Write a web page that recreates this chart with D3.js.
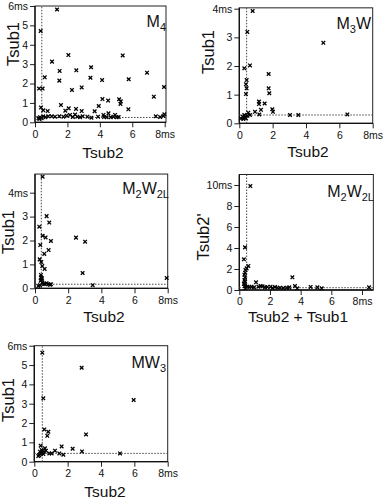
<!DOCTYPE html>
<html>
<head>
<meta charset="utf-8">
<script src="https://cdn.jsdelivr.net/npm/d3@7"></script>
<style>
  body { margin: 0; background: #fff; }
  svg { display: block; }
  text { font-family: "Liberation Sans", Arial, sans-serif; fill: #111; }
</style>
</head>
<body>
<div id="chart"></div>
<script>
// data, [Tsub2, Tsub1] pairs in ms
const m4Points = [
  [1.36, 5.82], [0.35, 4.71], [1.05, 3.13], [2.06, 3.47], [1.52, 2.65], [1.50, 2.15],
  [0.60, 2.32], [0.25, 1.74], [0.47, 1.74], [2.55, 2.68], [3.46, 2.84], [3.42, 2.30],
  [4.14, 2.18], [2.28, 1.67], [2.88, 1.80], [5.41, 3.45], [5.78, 2.22], [6.91, 2.56],
  [7.33, 1.32], [7.96, 1.82], [4.16, 1.20], [3.93, 0.84], [4.51, 1.12], [5.19, 1.19],
  [5.29, 1.08], [5.27, 0.95], [5.76, 0.67], [3.68, 0.57], [1.60, 0.89], [2.08, 0.72],
  [1.87, 0.60], [2.53, 0.69], [2.88, 0.58], [0.37, 0.76], [0.51, 0.62], [0.78, 0.58],
  [4.53, 0.46], [0.21, 0.22], [0.31, 0.26], [0.51, 0.31], [0.82, 0.31], [1.03, 0.31],
  [1.23, 0.29], [1.50, 0.31], [1.75, 0.29], [1.95, 0.34], [2.33, 0.27], [2.61, 0.29],
  [2.78, 0.26], [2.94, 0.31], [3.23, 0.29], [3.48, 0.24], [3.89, 0.29], [4.26, 0.27],
  [4.42, 0.26], [4.67, 0.26], [4.84, 0.29], [5.04, 0.26], [5.16, 0.27], [7.45, 0.31],
  [7.72, 0.27], [7.92, 0.33], [7.98, 0.41], [0.27, 0.17], [0.41, 0.21], [0.64, 0.26],
  [2.16, 0.38], [2.47, 0.40], [4.22, 0.38], [4.94, 0.38]
];
const m3wPoints = [
  [0.80, 3.92], [0.48, 3.19], [0.64, 2.02], [0.30, 1.92], [0.44, 1.51], [0.40, 1.36],
  [0.44, 1.22], [0.40, 1.02], [1.76, 1.72], [1.76, 1.22], [1.80, 1.05], [5.04, 2.81],
  [1.18, 0.67], [1.18, 0.76], [1.52, 0.69], [1.98, 0.49], [2.02, 0.40], [1.30, 0.47],
  [0.94, 0.40], [1.20, 0.31], [0.54, 0.37], [0.30, 0.29], [0.64, 0.29], [3.04, 0.29],
  [3.54, 0.29], [6.48, 0.31], [0.20, 0.23], [0.34, 0.21], [0.10, 0.17], [0.24, 0.15],
  [0.40, 0.17], [0.48, 0.26]
];
const m2w2lPoints = [
  [0.46, 4.67], [0.26, 2.58], [0.70, 3.02], [0.86, 2.75], [0.46, 2.20], [0.64, 2.13],
  [0.96, 1.98], [0.32, 1.81], [0.82, 1.60], [0.56, 1.44], [2.47, 2.12], [3.02, 1.95],
  [0.28, 1.21], [0.38, 1.10], [0.44, 0.93], [0.58, 0.81], [2.87, 0.64], [7.94, 0.43],
  [3.48, 0.13], [0.36, 0.56], [0.42, 0.42], [0.34, 0.32], [0.44, 0.24], [0.52, 0.18],
  [0.60, 0.18], [0.70, 0.21], [0.80, 0.17], [0.90, 0.15], [0.30, 0.13], [0.20, 0.10],
  [0.36, 0.46], [0.40, 0.38], [0.96, 0.17]
];
// [Tsub2 + Tsub1, Tsub2']
const m2w2lSumPoints = [
  [0.72, 9.90], [0.37, 4.06], [0.30, 2.92], [0.59, 2.29], [0.48, 2.06], [0.40, 1.90],
  [0.38, 1.65], [0.33, 1.46], [0.37, 1.20], [0.33, 0.95], [0.37, 0.80], [0.35, 0.60],
  [3.46, 1.21], [1.09, 0.73], [1.39, 0.38], [2.04, 0.32], [2.48, 0.22], [2.87, 0.19],
  [3.09, 0.22], [3.63, 0.38], [3.78, 0.16], [4.65, 0.29], [5.09, 0.25], [5.37, 0.16],
  [8.46, 0.25], [0.37, 0.38], [0.52, 0.32], [0.65, 0.29], [0.80, 0.32], [0.96, 0.25],
  [1.24, 0.32], [1.52, 0.35], [1.67, 0.25], [1.83, 0.29], [2.17, 0.19], [2.33, 0.29],
  [2.65, 0.22], [3.26, 0.25], [0.39, 0.16], [0.30, 0.57]
];
const mw3Points = [
  [0.48, 5.64], [0.54, 3.28], [2.84, 4.86], [5.96, 3.19], [0.60, 1.67], [0.84, 1.55],
  [0.78, 1.34], [3.10, 1.41], [0.38, 0.83], [1.64, 0.79], [2.30, 0.67], [0.64, 0.69],
  [1.24, 0.57], [2.86, 0.53], [0.90, 0.43], [1.50, 0.43], [1.74, 0.36], [5.14, 0.43],
  [0.30, 0.34], [0.38, 0.40], [0.48, 0.47], [0.58, 0.52], [0.44, 0.60], [0.34, 0.52],
  [0.54, 0.40], [0.70, 0.57], [1.04, 0.43], [0.24, 0.29]
];
// dotted threshold lines [vertical x, horizontal y]
const m4Cut = [0.42, 0.25];
const m3wCut = [0.44, 0.29];
const m2w2lCut = [0.38, 0.17];
const m2w2lSumCut = [0.48, 0.22];
const mw3Cut = [0.48, 0.43];

const xTicks = [0, 2, 4, 6, 8];
const yTicks6 = [0, 1, 2, 3, 4, 5, 6];
const yTicks4 = [0, 1, 2, 3, 4];
const yTicks10 = [0, 2, 4, 6, 8, 10];

const panels = [
  { pts: m4Points, cut: m4Cut, xMax: 8.08, yMax: 6, yTicks: yTicks6,
    x0: 35, x8: 164.7, y0: 122.3, yTop: 6, yTopVal: 6,
    title: [["M", 0], ["4", 1]], titleX: 166, titleY: 27,
    yLabel: "Tsub1", yLabelX: 19, yLabelY: 44, xLabel: "Tsub2", xLabelX: 103, xLabelY: 158 },
  { pts: m3wPoints, cut: m3wCut, xMax: 8, yMax: 4.03, yTicks: yTicks4,
    x0: 239.3, x8: 372.7, y0: 123.3, yTop: 8.7, yTopVal: 4,
    title: [["M", 0], ["3", 1], ["W", 0]], titleX: 371, titleY: 29,
    yLabel: "Tsub1", yLabelX: 214, yLabelY: 52, xLabel: "Tsub2", xLabelX: 308, xLabelY: 157 },
  { pts: m2w2lPoints, cut: m2w2lCut, xMax: 8, yMax: 4.78, yTicks: yTicks4,
    x0: 35, x8: 167.7, y0: 288.3, yTop: 192.7, yTopVal: 4,
    title: [["M", 0], ["2", 1], ["W", 0], ["2L", 1]], titleX: 169, titleY: 194,
    yLabel: "Tsub1", yLabelX: 14, yLabelY: 232, xLabel: "Tsub2", xLabelX: 104, xLabelY: 322 },
  { pts: m2w2lSumPoints, cut: m2w2lSumCut, xMax: 8.74, yMax: 11, yTicks: yTicks10,
    x0: 239.3, x8: 362, y0: 290, yTop: 185, yTopVal: 10,
    title: [["M", 0], ["2", 1], ["W", 0], ["2L", 1]], titleX: 374, titleY: 197,
    yLabel: "Tsub2'", yLabelX: 209, yLabelY: 237, xLabel: "Tsub2 + Tsub1", xLabelX: 298, xLabelY: 322 },
  { pts: mw3Points, cut: mw3Cut, xMax: 8, yMax: 6, yTicks: yTicks6,
    x0: 34.3, x8: 167.7, y0: 461.7, yTop: 345.7, yTopVal: 6,
    title: [["MW", 0], ["3", 1]], titleX: 166, titleY: 368,
    yLabel: "Tsub1", yLabelX: 14, yLabelY: 400, xLabel: "Tsub2", xLabelX: 105, xLabelY: 497 }
];

const svg = d3.select("#chart").append("svg")
  .attr("width", 385)
  .attr("height", 500);

panels.forEach(p => {
  const x = d3.scaleLinear().domain([0, 8]).range([p.x0, p.x8]);
  const y = d3.scaleLinear().domain([0, p.yTopVal]).range([p.y0, p.yTop]);
  const g = svg.append("g");

  // frame
  g.append("rect")
    .attr("x", x(0)).attr("y", y(p.yMax))
    .attr("width", x(p.xMax) - x(0)).attr("height", y(0) - y(p.yMax))
    .attr("fill", "none").attr("stroke", "#222").attr("stroke-width", 1);

  // axes
  const fmtX = d => d === 8 ? "8ms" : d;
  const fmtY = d => d === p.yTopVal ? d + "ms" : d;
  const xAxis = g.append("g")
    .attr("transform", `translate(0,${y(0)})`)
    .call(d3.axisBottom(x).tickValues(xTicks).tickFormat(fmtX).tickSize(5).tickPadding(3));
  const yAxis = g.append("g")
    .attr("transform", `translate(${x(0)},0)`)
    .call(d3.axisLeft(y).tickValues(p.yTicks).tickFormat(fmtY).tickSize(5).tickPadding(2));
  [xAxis, yAxis].forEach(a => {
    a.select(".domain").remove();
    a.selectAll("line").attr("stroke", "#222");
    a.selectAll("text").attr("font-size", 10.5).attr("fill", "#111")
      .style("font-family", "'Liberation Sans', Arial, sans-serif");
  });
  g.append("line")
    .attr("x1", x(0)).attr("x2", x(0)).attr("y1", y(0)).attr("y2", y(p.yMax))
    .attr("stroke", "#111").attr("stroke-width", 1.3);
  g.append("line")
    .attr("x1", x(0)).attr("x2", x(p.xMax)).attr("y1", y(0)).attr("y2", y(0))
    .attr("stroke", "#111").attr("stroke-width", 1.3);

  // dotted cut lines
  g.append("line")
    .attr("x1", x(p.cut[0])).attr("x2", x(p.cut[0]))
    .attr("y1", y(0)).attr("y2", y(p.yMax))
    .attr("stroke", "#444").attr("stroke-width", 1).attr("stroke-dasharray", "1.5,1.5");
  g.append("line")
    .attr("x1", x(0)).attr("x2", x(p.xMax))
    .attr("y1", y(p.cut[1])).attr("y2", y(p.cut[1]))
    .attr("stroke", "#444").attr("stroke-width", 1).attr("stroke-dasharray", "1.5,1.5");

  // x markers
  g.append("g").selectAll("path")
    .data(p.pts)
    .join("path")
      .attr("d", d => {
        const cx = x(d[0]), cy = y(d[1]), r = 1.8;
        return `M${cx - r},${cy - r}L${cx + r},${cy + r}M${cx - r},${cy + r}L${cx + r},${cy - r}`;
      })
      .attr("stroke", "#000").attr("stroke-width", 1.3);

  // panel title with subscripts
  const t = g.append("text")
    .attr("x", p.titleX).attr("y", p.titleY)
    .attr("text-anchor", "end").attr("font-size", 16);
  let prevSub = 0;
  p.title.forEach(([s, sub]) => {
    t.append("tspan")
      .attr("font-size", sub ? 11 : 16)
      .attr("dy", sub ? 4 : (prevSub ? -4 : 0))
      .text(s);
    prevSub = sub;
  });

  // axis labels
  g.append("text")
    .attr("transform", `translate(${p.yLabelX},${p.yLabelY}) rotate(-90)`)
    .attr("text-anchor", "middle").attr("font-size", 16.5)
    .text(p.yLabel);
  g.append("text")
    .attr("x", p.xLabelX).attr("y", p.xLabelY)
    .attr("text-anchor", "middle").attr("font-size", 15.5)
    .text(p.xLabel);
});
</script>
</body>
</html>
